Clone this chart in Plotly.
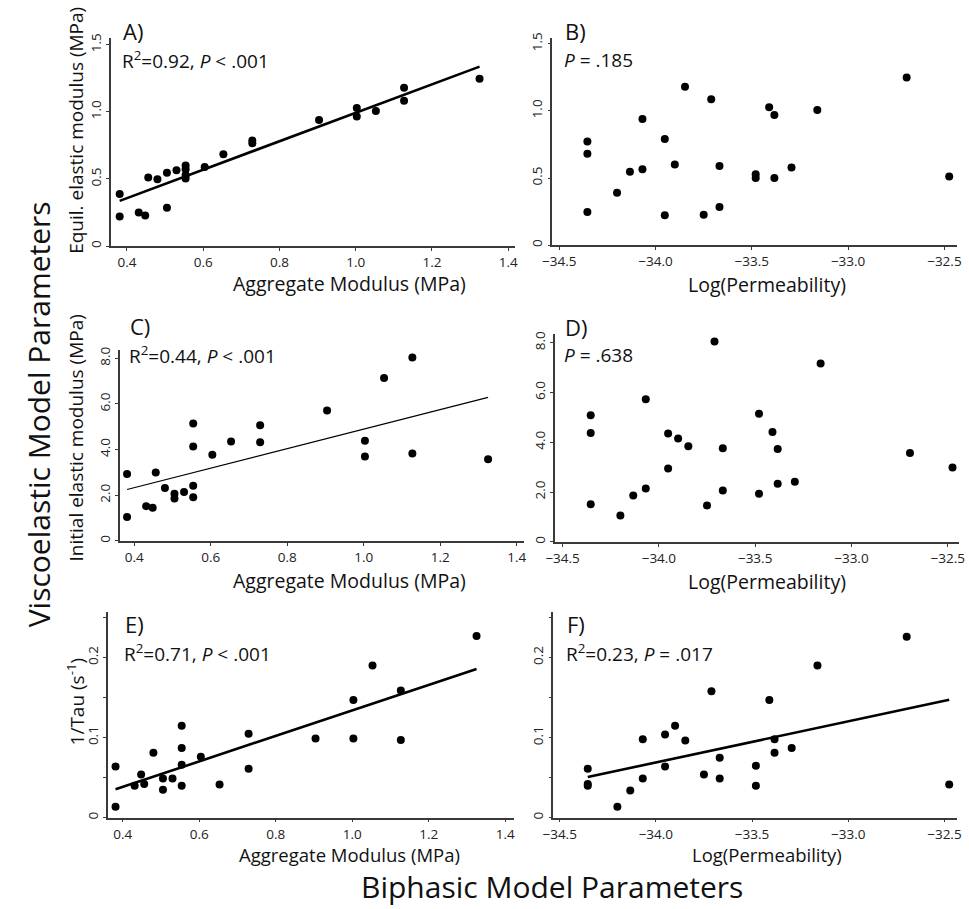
import numpy as np
import plotly.graph_objects as go

W, H = 969, 909

# ---------------- data ----------------
agg_modulus = [0.381, 0.381, 0.431, 0.448, 0.456, 0.480, 0.505, 0.505, 0.530,
               0.554, 0.554, 0.554, 0.554, 0.604, 0.653, 0.729, 0.729, 0.904,
               1.003, 1.003, 1.053, 1.127, 1.127, 1.325]
equil_modulus_A = [0.389, 0.221, 0.251, 0.229, 0.511, 0.499, 0.546, 0.285, 0.566,
                   0.600, 0.573, 0.529, 0.504, 0.590, 0.684, 0.787, 0.767, 0.939,
                   1.028, 0.966, 1.006, 1.180, 1.082, 1.247]
initial_modulus_C = [2.93, 1.04, 1.52, 1.45, 3.00, 2.32, 2.06, 1.86, 2.14,
                     5.14, 4.13, 2.41, 1.91, 3.77, 4.35, 5.07, 4.32, 5.71,
                     4.39, 3.70, 7.14, 8.04, 3.83, 3.58]
inv_tau_E = [0.064, 0.0136, 0.040, 0.054, 0.042, 0.081, 0.049, 0.035, 0.049,
             0.115, 0.087, 0.066, 0.040, 0.076, 0.0416, 0.105, 0.061, 0.099,
             0.147, 0.099, 0.190, 0.159, 0.097, 0.227]

log_perm = [-34.354, -34.354, -34.354, -34.20, -34.133, -34.068, -34.068, -33.952,
            -33.952, -33.90, -33.847, -33.75, -33.711, -33.668, -33.668, -33.48,
            -33.48, -33.41, -33.383, -33.383, -33.294, -33.16, -32.696, -32.475]
equil_modulus_B = [0.773, 0.680, 0.247, 0.390, 0.546, 0.565, 0.940, 0.790, 0.222,
                   0.600, 1.180, 0.227, 1.086, 0.590, 0.284, 0.528, 0.500, 1.027,
                   0.970, 0.500, 0.578, 1.007, 1.249, 0.511]
initial_modulus_D = [5.08, 4.37, 1.51, 1.06, 1.86, 5.73, 2.14, 4.35, 2.95, 4.15,
                     3.84, 1.46, 8.05, 3.76, 2.06, 5.14, 1.93, 4.41, 3.73, 2.33,
                     2.41, 7.16, 3.57, 2.99]
inv_tau_F = [0.061, 0.040, 0.042, 0.0136, 0.034, 0.098, 0.049, 0.104, 0.064,
             0.115, 0.0965, 0.054, 0.158, 0.075, 0.049, 0.065, 0.040, 0.147,
             0.098, 0.081, 0.087, 0.190, 0.226, 0.0416]

agg_ticks = [0.4, 0.6, 0.8, 1.0, 1.2, 1.4]
agg_ticktext = ["0.4", "0.6", "0.8", "1.0", "1.2", "1.4"]
perm_ticks = [-34.5, -34.0, -33.5, -33.0, -32.5]
perm_ticktext = ["\u221234.5", "\u221234.0", "\u221233.5", "\u221233.0", "\u221232.5"]
equil_ticks = [0, 0.5, 1.0, 1.5]
equil_ticktext = ["0", "0.5", "1.0", "1.5"]
initial_ticks = [0, 2, 4, 6, 8]
initial_ticktext = ["0", "2.0", "4.0", "6.0", "8.0"]
tau_ticks = [0, 0.10, 0.20]
tau_ticktext = ["0", "0.1", "0.2"]
tau_minor_ticks = [0.05, 0.15, 0.25]

panel_labels = ["A)", "B)", "C)", "D)", "E)", "F)"]
stat_texts = ["R<sup>2</sup>=0.92, <i>P</i> < .001",
              "<i>P</i> = .185",
              "R<sup>2</sup>=0.44, <i>P</i> < .001",
              "<i>P</i> = .638",
              "R<sup>2</sup>=0.71, <i>P</i> < .001",
              "R<sup>2</sup>=0.23, <i>P</i> = .017"]
x_titles = ["Aggregate Modulus (MPa)", "Log(Permeability)"] * 3
y_titles = ["Equil. elastic modulus (MPa)", "Initial elastic modulus (MPa)",
            "1/Tau (s<sup>-1</sup>)"]
row_title = "Viscoelastic Model Parameters"
col_title = "Biphasic Model Parameters"

# ---------------- layout geometry (pixels) ----------------
FONT = "Open Sans"
panels = [
    dict(x=agg_modulus, y=equil_modulus_A, xpx=(102, 513), ypx=(243, 33),
         xr=(0.3588, 1.418), yr=(0, 1.552), xt=(agg_ticks, agg_ticktext),
         yt=(equil_ticks, equil_ticktext), minor=None, fit=2.6),
    dict(x=log_perm, y=equil_modulus_B, xpx=(551, 963), ypx=(242, 33),
         xr=(-34.536, -32.434), yr=(0, 1.545), xt=(perm_ticks, perm_ticktext),
         yt=(equil_ticks, equil_ticktext), minor=None, fit=0),
    dict(x=agg_modulus, y=initial_modulus_C, xpx=(111, 522), ypx=(540, 348),
         xr=(0.3627, 1.4185), yr=(0, 8.35), xt=(agg_ticks, agg_ticktext),
         yt=(initial_ticks, initial_ticktext), minor=None, fit=1.1),
    dict(x=log_perm, y=initial_modulus_D, xpx=(554, 965), ypx=(541, 332),
         xr=(-34.538, -32.441), yr=(0, 8.33), xt=(perm_ticks, perm_ticktext),
         yt=(initial_ticks, initial_ticktext), minor=None, fit=0),
    dict(x=agg_modulus, y=inv_tau_E, xpx=(99, 512), ypx=(819, 612),
         xr=(0.362, 1.423), yr=(0, 0.2566), xt=(agg_ticks, agg_ticktext),
         yt=(tau_ticks, tau_ticktext), minor=tau_minor_ticks, fit=2.6),
    dict(x=log_perm, y=inv_tau_F, xpx=(552, 963), ypx=(819, 612),
         xr=(-34.533, -32.434), yr=(0, 0.2566), xt=(perm_ticks, perm_ticktext),
         yt=(tau_ticks, tau_ticktext), minor=tau_minor_ticks, fit=2.6),
]

label_pos = [(112, 26), (562, 26), (119, 323), (562, 325), (114, 624), (564, 624)]
stat_pos = [(111, 55), (561, 55), (118, 353), (561, 353), (113, 653), (563, 653)]
xtitle_pos = [(345, 280.5), (770, 281.5), (345, 579.5), (770, 581), (345, 856), (770, 856.5)]
xtitle_size = [19.5, 19.5, 19.5, 19.5, 18.5, 18.5]
ytitle_pos = [(66, 126), (66, 436), (66, 702)]

fig = go.Figure()
layout = dict(width=W, height=H, margin=dict(l=0, r=0, t=0, b=0),
              plot_bgcolor="white", paper_bgcolor="white", showlegend=False,
              font=dict(family=FONT, color="#111"))


def px_x(p):
    return p / W


def px_y(p):
    return 1 - p / H


AX = "#3a3a3a"
for i, p in enumerate(panels, start=1):
    xa = "xaxis" if i == 1 else f"xaxis{i}"
    ya = "yaxis" if i == 1 else f"yaxis{i}"
    xref = "x" if i == 1 else f"x{i}"
    yref = "y" if i == 1 else f"y{i}"
    common = dict(showline=True, linecolor=AX, linewidth=1.6, ticks="outside",
                  ticklen=3, tickwidth=1, tickcolor=AX, showgrid=False,
                  zeroline=False, tickfont=dict(family=FONT, size=13.5, color="#222"))
    layout[xa] = dict(domain=[px_x(p["xpx"][0]), px_x(p["xpx"][1])], range=list(p["xr"]),
                      tickmode="array", tickvals=p["xt"][0], ticktext=p["xt"][1],
                      anchor=yref, **common)
    layout[ya] = dict(domain=[px_y(p["ypx"][0]), px_y(p["ypx"][1])], range=list(p["yr"]),
                      tickmode="array", tickvals=p["yt"][0], ticktext=p["yt"][1],
                      anchor=xref, tickangle=-90, **common)
    if p["minor"]:
        layout[ya]["minor"] = dict(tickmode="array", tickvals=p["minor"], ticks="outside",
                                   ticklen=3, tickwidth=1, tickcolor=AX, showgrid=False)
    fig.add_trace(go.Scatter(x=p["x"], y=p["y"], mode="markers", xaxis=xref, yaxis=yref,
                             marker=dict(color="black", size=8), hoverinfo="skip"))
    if p["fit"]:
        xs = np.array(p["x"], dtype=float)
        ys = np.array(p["y"], dtype=float)
        slope, intercept = np.polyfit(xs, ys, 1)
        xl = np.array([xs.min(), xs.max()])
        fig.add_trace(go.Scatter(x=xl, y=slope * xl + intercept, mode="lines",
                                 xaxis=xref, yaxis=yref,
                                 line=dict(color="black", width=p["fit"]), hoverinfo="skip"))

ann = []
for (lx, ly), t in zip(label_pos, panel_labels):
    ann.append(dict(x=px_x(lx), y=px_y(ly), xref="paper", yref="paper", text=t,
                    showarrow=False, xanchor="left", yanchor="middle",
                    font=dict(family=FONT, size=22, color="#111")))
for (sx, sy), t in zip(stat_pos, stat_texts):
    ann.append(dict(x=px_x(sx), y=px_y(sy), xref="paper", yref="paper", text=t,
                    showarrow=False, xanchor="left", yanchor="middle",
                    font=dict(family=FONT, size=19, color="#111")))
for (x, y), t, s in zip(xtitle_pos, x_titles, xtitle_size):
    ann.append(dict(x=px_x(x), y=px_y(y), xref="paper", yref="paper", text=t,
                    showarrow=False, xanchor="center", yanchor="middle",
                    font=dict(family=FONT, size=s, color="#111")))
for (x, y), t in zip(ytitle_pos, y_titles):
    ann.append(dict(x=px_x(x), y=px_y(y), xref="paper", yref="paper", text=t,
                    showarrow=False, xanchor="center", yanchor="middle", textangle=-90,
                    font=dict(family=FONT, size=19, color="#111")))

ann.append(dict(x=px_x(28), y=px_y(413), xref="paper", yref="paper",
                text=row_title, showarrow=False, textangle=-90,
                xanchor="center", yanchor="middle",
                font=dict(family=FONT, size=30, color="#111")))
ann.append(dict(x=px_x(551), y=px_y(888), xref="paper", yref="paper",
                text=col_title, showarrow=False,
                xanchor="center", yanchor="middle",
                font=dict(family=FONT, size=30, color="#111")))

layout["annotations"] = ann
fig.update_layout(**layout)
fig.write_html("out.html", config={"displayModeBar": False},
               post_script="document.body.style.margin='0px';")
